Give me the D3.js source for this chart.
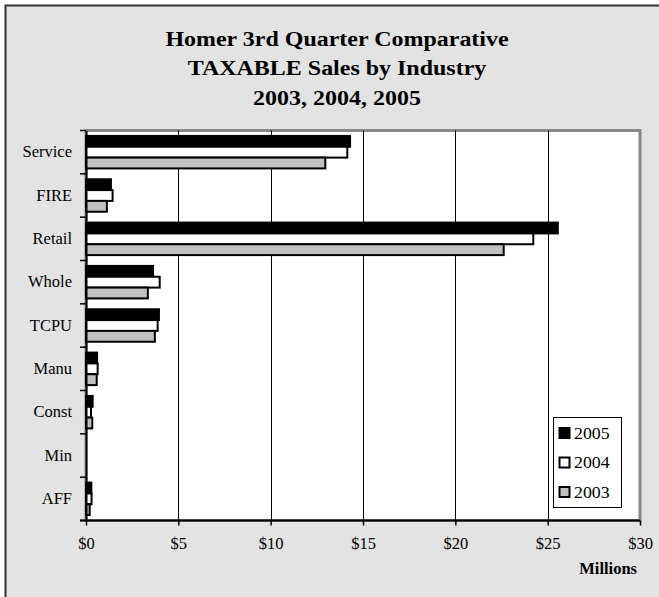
<!DOCTYPE html>
<html>
<head>
<meta charset="utf-8">
<script src="https://cdn.jsdelivr.net/npm/d3@7"></script>
<style>
  html, body { margin: 0; padding: 0; background: #ffffff; }
  svg { display: block; }
  text { font-family: "Liberation Serif", "Times New Roman", serif; fill: #000; }
</style>
</head>
<body>
<svg id="chart" width="659" height="597"></svg>
<script>
// ---- data ----
const titleLines = ["Homer 3rd Quarter Comparative", "TAXABLE Sales by Industry", "2003, 2004, 2005"];
const categories = ["Service", "FIRE", "Retail", "Whole", "TCPU", "Manu", "Const", "Min", "AFF"];
const years = ["2005", "2004", "2003"];
const values2005 = [14.3, 1.35, 25.55, 3.63, 3.95, 0.6, 0.36, 0, 0.29];
const values2004 = [14.15, 1.44, 24.22, 3.99, 3.88, 0.63, 0.27, 0, 0.3];
const values2003 = [12.96, 1.13, 22.62, 3.35, 3.73, 0.58, 0.34, 0, 0.2];
const xTicks = [0, 5, 10, 15, 20, 25, 30];
const xTickLabels = ["$0", "$5", "$10", "$15", "$20", "$25", "$30"];
const axisTitle = "Millions";

const seriesValues = { "2005": values2005, "2004": values2004, "2003": values2003 };
const seriesFill = { "2005": "#000000", "2004": "#ffffff", "2003": "#c0c0c0" };

const svg = d3.select("#chart");

// outer frame
svg.append("rect").attr("x", 5.5).attr("y", 5.5).attr("width", 700).attr("height", 700)
  .attr("fill", "#e3e3e3").attr("stroke", "#333").attr("stroke-width", 2);

// title (slightly widened like the original rendering)
const tg = svg.append("g").attr("transform", "translate(337,0) scale(1.09,1)");
tg.selectAll("text").data(titleLines).join("text")
  .attr("x", 0).attr("y", (d, i) => 46 + i * 29.3)
  .attr("text-anchor", "middle").attr("font-size", 22).attr("font-weight", "bold")
  .text(d => d);

const plot = { left: 86, right: 640, top: 130.5, bottom: 520.5 };

const x = d3.scaleLinear().domain([0, 30]).range([plot.left, plot.right]);
const y = d3.scaleBand().domain(categories).range([plot.top, plot.bottom]).padding(0);
const y1 = d3.scaleBand().domain(years).range([0, y.bandwidth()]).paddingInner(0).paddingOuter(0.5);

// plot background
svg.append("rect").attr("x", plot.left).attr("y", plot.top)
  .attr("width", plot.right - plot.left).attr("height", plot.bottom - plot.top)
  .attr("fill", "#ffffff").attr("stroke", "#888").attr("stroke-width", 3);

// gridlines
svg.append("g").selectAll("line").data(xTicks.filter(t => t > 0 && t < 30)).join("line")
  .attr("x1", d => Math.round(x(d)) + 0.5).attr("x2", d => Math.round(x(d)) + 0.5)
  .attr("y1", plot.top).attr("y2", plot.bottom)
  .attr("stroke", "#000").attr("stroke-width", 1);

// bars
const groups = svg.append("g").selectAll("g").data(categories).join("g")
  .attr("transform", d => `translate(0,${y(d)})`);
groups.selectAll("rect").data((c, i) => years.map(yr => ({ yr, v: seriesValues[yr][i] })))
  .join("rect")
  .filter(d => d.v > 0)
  .attr("x", x(0))
  .attr("y", d => y1(d.yr))
  .attr("width", d => x(d.v) - x(0))
  .attr("height", y1.bandwidth())
  .attr("fill", d => seriesFill[d.yr])
  .attr("stroke", "#000").attr("stroke-width", 2);

// y axis
const yAxis = d3.axisLeft(y).tickSize(0).tickPadding(14);
const yg = svg.append("g").attr("transform", `translate(${plot.left},0)`).call(yAxis);
yg.attr("font-family", null);
yg.select(".domain").attr("stroke", "#000").attr("stroke-width", 2);
yg.selectAll("text").attr("font-size", 16.5);
// y boundary ticks
svg.append("g").selectAll("line").data(categories.concat(["__end"])).join("line")
  .attr("x1", plot.left - 6).attr("x2", plot.left)
  .attr("y1", (d, i) => i < categories.length ? y(d) : plot.bottom)
  .attr("y2", (d, i) => i < categories.length ? y(d) : plot.bottom)
  .attr("stroke", "#000").attr("stroke-width", 1.5);

// x axis
const xAxis = d3.axisBottom(x).tickValues(xTicks).tickSize(5).tickPadding(11.5)
  .tickFormat((d, i) => xTickLabels[i]);
const xg = svg.append("g").attr("transform", `translate(0,${plot.bottom})`).call(xAxis);
xg.attr("font-family", null);
xg.select(".domain").attr("stroke", "#000").attr("stroke-width", 2).attr("d", `M${plot.left - 6},0H${plot.right}`);
xg.selectAll(".tick line").attr("stroke", "#000").attr("stroke-width", 1.5);
xg.selectAll("text").attr("font-size", 16.5);

svg.append("text").attr("x", 637).attr("y", 574).attr("text-anchor", "end")
  .attr("font-size", 16.5).attr("font-weight", "bold").text(axisTitle);

// legend
const lg = svg.append("g").attr("transform", "translate(553.5,417.5)");
lg.append("rect").attr("width", 68).attr("height", 90).attr("fill", "#fff").attr("stroke", "#000").attr("stroke-width", 1);
const li = lg.selectAll("g").data(years).join("g").attr("transform", (d, i) => `translate(0,${15.5 + i * 29.5})`);
li.append("rect").attr("x", 6).attr("y", -5).attr("width", 10).attr("height", 10)
  .attr("fill", d => seriesFill[d]).attr("stroke", "#000").attr("stroke-width", 2);
li.append("text").attr("x", 19).attr("y", 5.5).attr("font-size", 16.5)
  .attr("transform", "scale(1.08,1)").text(d => d);
</script>
</body>
</html>
